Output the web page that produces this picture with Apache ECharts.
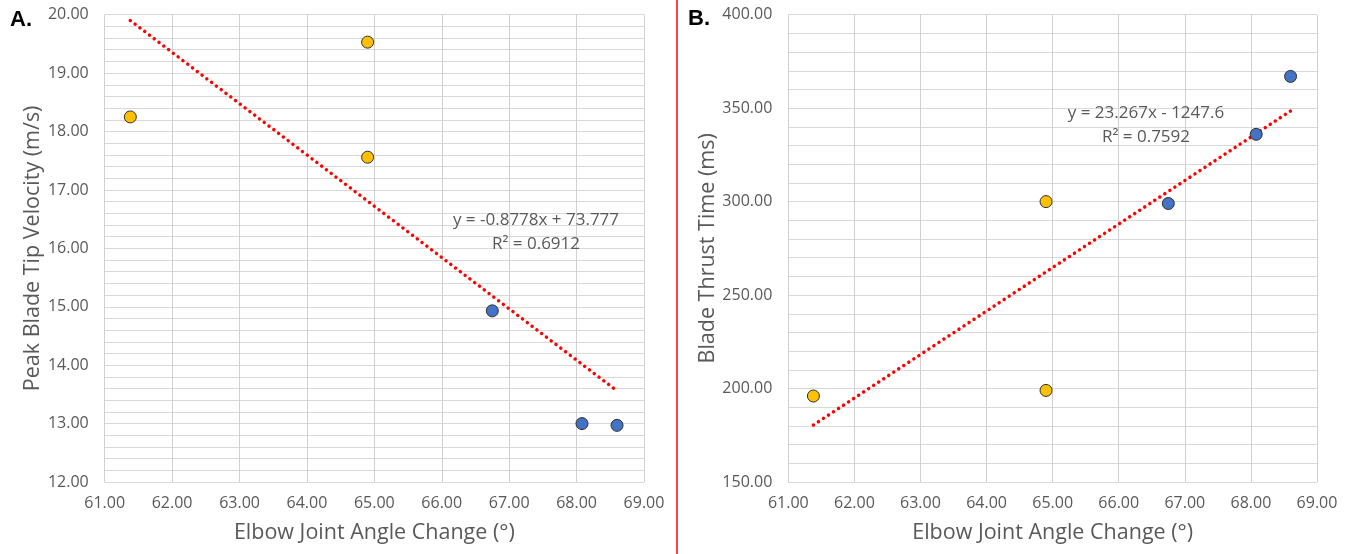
<!DOCTYPE html>
<html>
<head>
<meta charset="utf-8">
<script src="https://cdn.jsdelivr.net/npm/echarts@6/dist/echarts.min.js"></script>
<style>
html,body{margin:0;padding:0;background:#fff;}
#c{width:1350px;height:554px;}
</style>
</head>
<body>
<div id="c"></div>
<script>
// Panel A data
const aYellow = [[61.38, 18.25], [64.90, 19.53], [64.90, 17.56]];
const aBlue = [[66.75, 14.93], [68.08, 13.00], [68.60, 12.97]];
const aTrend = [[61.38, 19.90], [68.60, 13.56]];
const aEquation = 'y = -0.8778x + 73.777';
const aR2 = 'R² = 0.6912';
// Panel B data
const bYellow = [[61.38, 196], [64.90, 300], [64.90, 199]];
const bBlue = [[66.75, 299], [68.08, 336], [68.60, 367]];
const bTrend = [[61.38, 180.5], [68.60, 348.5]];
const bEquation = 'y = 23.267x - 1247.6';
const bR2 = 'R² = 0.7592';
// Axis ranges / labels
const xRange = [61, 69, 1];
const aYRange = [12, 20, 1];
const bYRange = [150, 400, 50];
const xTitle = 'Elbow Joint Angle Change (°)';
const aYTitle = 'Peak Blade Tip Velocity (m/s)';
const bYTitle = 'Blade Thrust Time (ms)';

const FONT = '"Open Sans", "Noto Sans", sans-serif';
const TXT = '#595959';
const GRID = '#d9d9d9';

function xAxis(gi) {
  return {
    type: 'value', gridIndex: gi, min: xRange[0], max: xRange[1], interval: xRange[2],
    axisLine: {show: false}, axisTick: {show: false},
    axisLabel: {color: TXT, fontFamily: FONT, fontSize: 16, margin: 13, formatter: v => v.toFixed(2)},
    splitLine: {show: true, lineStyle: {color: '#d0d0d0', width: 1}},
    name: xTitle, nameLocation: 'middle', nameGap: 40,
    nameTextStyle: {color: TXT, fontFamily: FONT, fontSize: 21.5}
  };
}
function yAxis(gi, r, title, gap) {
  return {
    type: 'value', gridIndex: gi, min: r[0], max: r[1], interval: r[2],
    axisLine: {show: false}, axisTick: {show: false},
    axisLabel: {color: TXT, fontFamily: FONT, fontSize: 16, margin: 16, formatter: v => v.toFixed(2)},
    splitLine: {show: true, lineStyle: {color: GRID, width: 1}},
    minorTick: {show: false, splitNumber: 5},
    minorSplitLine: {show: true, lineStyle: {color: GRID, width: 1}},
    name: title, nameLocation: 'middle', nameGap: gap, nameRotate: 90,
    nameTextStyle: {color: TXT, fontFamily: FONT, fontSize: 21.5}
  };
}
function scatter(gi, data, color) {
  return {
    type: 'scatter', xAxisIndex: gi, yAxisIndex: gi, data: data, symbolSize: 12,
    itemStyle: {color: color, borderColor: '#2f2f2f', borderWidth: 1, opacity: 1},
    z: 5
  };
}
function trend(gi, data) {
  return {
    type: 'line', xAxisIndex: gi, yAxisIndex: gi, data: data, symbol: 'none',
    lineStyle: {color: '#ff0000', width: 3.5, type: [0.01, 6], cap: 'round'},
    z: 4
  };
}

const chart = echarts.init(document.getElementById('c'), null, {renderer: 'canvas'});
chart.setOption({
  animation: false,
  backgroundColor: '#ffffff',
  grid: [
    {left: 104.7, right: 1350 - 644, top: 14.7, bottom: 72},
    {left: 788.3, right: 1350 - 1317, top: 14.7, bottom: 72}
  ],
  xAxis: [xAxis(0), xAxis(1)],
  yAxis: [yAxis(0, aYRange, aYTitle, 58), yAxis(1, bYRange, bYTitle, 67)],
  series: [
    trend(0, aTrend), scatter(0, aYellow, '#ffc000'), scatter(0, aBlue, '#4472c4'),
    trend(1, bTrend), scatter(1, bYellow, '#ffc000'), scatter(1, bBlue, '#4472c4')
  ],
  graphic: [
    {type: 'line', shape: {x1: 677, y1: 0, x2: 677, y2: 554}, style: {stroke: '#ff0000', lineWidth: 1.5}},
    {type: 'text', x: 10, y: 20, style: {text: 'A.', verticalAlign: 'middle', fontFamily: '"Liberation Sans", Arial, sans-serif', fontWeight: 'bold', fontSize: 22, fill: '#000'}},
    {type: 'text', x: 688, y: 19, style: {text: 'B.', verticalAlign: 'middle', fontFamily: '"Liberation Sans", Arial, sans-serif', fontWeight: 'bold', fontSize: 22, fill: '#000'}},
    {type: 'text', x: 536, y: 220, style: {text: aEquation, align: 'center', verticalAlign: 'middle', fontFamily: FONT, fontSize: 17, fill: TXT}, z: 10},
    {type: 'text', x: 536, y: 244, style: {text: aR2, align: 'center', verticalAlign: 'middle', fontFamily: FONT, fontSize: 17, fill: TXT}, z: 10},
    {type: 'text', x: 1146, y: 113, style: {text: bEquation, align: 'center', verticalAlign: 'middle', fontFamily: FONT, fontSize: 17, fill: TXT}, z: 10},
    {type: 'text', x: 1146, y: 137, style: {text: bR2, align: 'center', verticalAlign: 'middle', fontFamily: FONT, fontSize: 17, fill: TXT}, z: 10}
  ]
});
</script>
</body>
</html>
